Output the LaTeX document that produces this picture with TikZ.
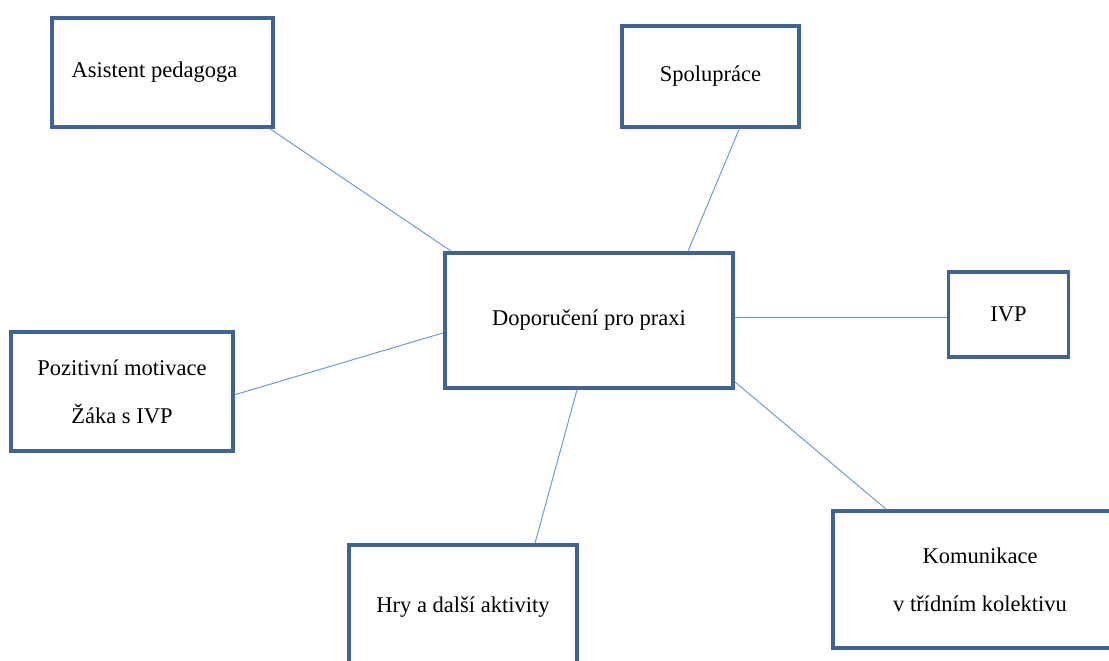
\documentclass[tikz,border=0pt]{standalone}
\usepackage{fontspec}
\setmainfont{Liberation Serif}
\usetikzlibrary{calc}
\definecolor{boxblue}{HTML}{3F6393}
\definecolor{linkblue}{HTML}{6E9AD4}

\begin{document}
\begin{tikzpicture}[x=0.025cm, y=-0.025cm,
    box/.style={draw=boxblue, line width=2.6pt, fill=white, inner sep=0pt,
        align=center, font=\fontsize{16}{34}\selectfont},
    link/.style={linkblue, line width=0.7pt}]
    % Page frame
    \clip (0,0) rectangle (1109,660);

    % Centre
    \node[box, minimum width=7.2cm, minimum height=3.375cm] (praxe) at (589,320.5) {Doporučení pro praxi};

    % Surrounding boxes
    \node[box, minimum width=5.525cm, minimum height=2.725cm] (asistent) at (162.5,72.5) {\hspace*{-0.4cm}\raisebox{-3pt}{Asistent pedagoga}};
    \node[box, minimum width=4.425cm, minimum height=2.525cm] (spoluprace) at (710.5,76.5) {Spolupráce};
    \node[box, minimum width=3.0cm, minimum height=2.125cm] (ivp) at (1008.5,314.5) {\raisebox{-2pt}{IVP}};
    \node[box, minimum width=5.55cm, minimum height=2.975cm] (motivace) at (122,391.5) {Pozitivní motivace\\Žáka s IVP};
    \node[box, minimum width=5.7cm, minimum height=3.1cm] (hry) at (463,607) {Hry a další aktivity};
    \node[box, minimum width=7.35cm, minimum height=3.425cm] (komunikace) at (980,579.5) {\raisebox{-3pt}{Komunikace}\\\raisebox{-3pt}{v třídním kolektivu}};

    % Connectors
    \draw[link] ([xshift=-0.12cm]asistent.south east) -- ([xshift=0.2cm]praxe.north west);
    \draw[link] ([xshift=0.72cm]spoluprace.south) -- ([xshift=2.475cm]praxe.north);
    \draw[link] (praxe.east |- 0,317) -- (ivp.west |- 0,317);
    \draw[link] ([yshift=-0.08cm]motivace.east) -- ([yshift=-0.31cm]praxe.west);
    \draw[link] ([xshift=-0.3cm]praxe.south) -- ([xshift=1.8cm]hry.north);
    \draw[link] ([yshift=0.2cm]praxe.south east) -- ([xshift=1.375cm]komunikace.north west);
\end{tikzpicture}
\end{document}
